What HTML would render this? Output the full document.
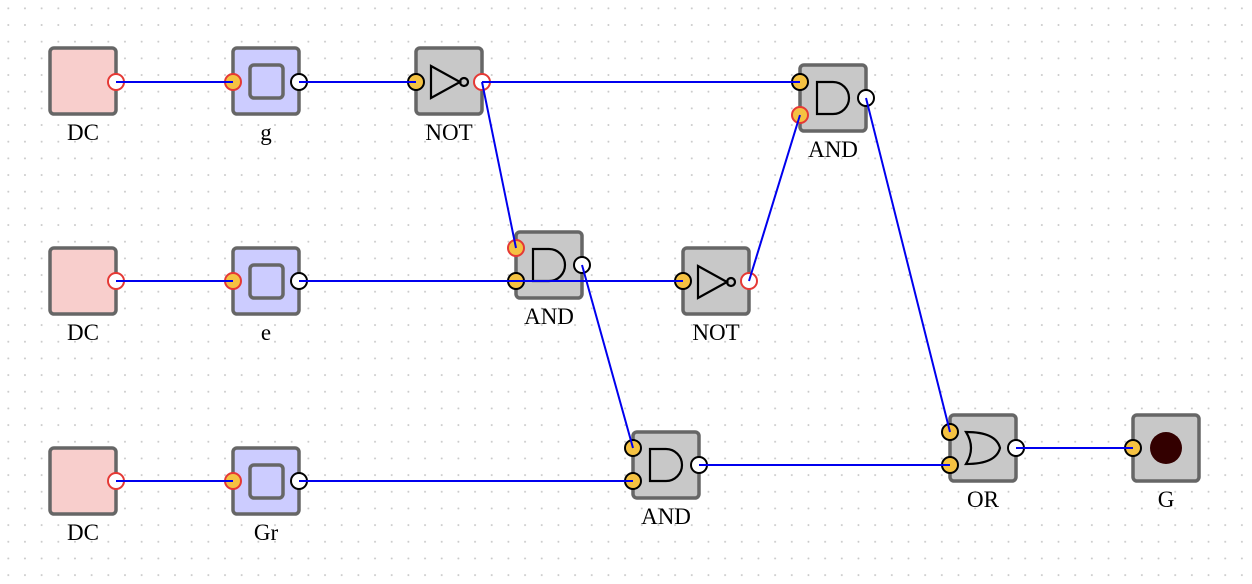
<!DOCTYPE html>
<html><head><style>body{margin:0;background:#fff}svg{display:block}</style></head><body>
<svg width="1252" height="584" xmlns="http://www.w3.org/2000/svg" font-family="Liberation Serif, serif" font-size="23">
<defs><pattern id="d" width="16.67" height="16.67" patternUnits="userSpaceOnUse" x="0" y="0"><circle cx="8.3" cy="8.3" r="1" fill="#c8c8c8"/></pattern></defs>
<rect width="1252" height="584" fill="url(#d)"/>
<g stroke="#666" stroke-width="3.5">
<rect x="50" y="48" width="66" height="66" rx="4" fill="#f8cecc"/>
<rect x="50" y="248" width="66" height="66" rx="4" fill="#f8cecc"/>
<rect x="50" y="448" width="66" height="66" rx="4" fill="#f8cecc"/>
<rect x="233" y="48" width="66" height="66" rx="4" fill="#ccccff"/><rect x="250" y="65" width="33" height="33" rx="4" fill="#ccccff"/>
<rect x="233" y="248" width="66" height="66" rx="4" fill="#ccccff"/><rect x="250" y="265" width="33" height="33" rx="4" fill="#ccccff"/>
<rect x="233" y="448" width="66" height="66" rx="4" fill="#ccccff"/><rect x="250" y="465" width="33" height="33" rx="4" fill="#ccccff"/>
<rect x="416" y="48" width="66" height="66" rx="4" fill="#c8c8c8"/>
<rect x="683" y="248" width="66" height="66" rx="4" fill="#c8c8c8"/>
<rect x="800" y="65" width="66" height="66" rx="4" fill="#c8c8c8"/>
<rect x="516" y="232" width="66" height="66" rx="4" fill="#c8c8c8"/>
<rect x="633" y="432" width="66" height="66" rx="4" fill="#c8c8c8"/>
<rect x="950" y="415" width="66" height="66" rx="4" fill="#c8c8c8"/>
<rect x="1133" y="415" width="66" height="66" rx="4" fill="#c8c8c8"/>
</g>
<g stroke="#000" stroke-width="2.2" fill="none">
<path d="M431 66L460 82L431 98Z"/><circle cx="464" cy="82" r="4"/>
<path d="M698 266L727 282L698 298Z"/><circle cx="731" cy="282" r="4"/>
<path d="M817 82h16a16 16 0 0 1 0 32h-16Z"/>
<path d="M533 249h16a16 16 0 0 1 0 32h-16Z"/>
<path d="M650 449h16a16 16 0 0 1 0 32h-16Z"/>
<path d="M966 432q30 0 34 16q-4 16-34 16q10-16 0-32Z"/>
</g>
<circle cx="1166" cy="448" r="16" fill="#330000"/>
<g stroke-width="2">
<g fill="#fff" stroke="#e53935"><circle cx="116" cy="82" r="8"/><circle cx="116" cy="281" r="8"/><circle cx="116" cy="481" r="8"/><circle cx="482" cy="82" r="8"/><circle cx="749" cy="281" r="8"/></g>
<g fill="#f5c242" stroke="#e53935"><circle cx="233" cy="82" r="8"/><circle cx="233" cy="281" r="8"/><circle cx="233" cy="481" r="8"/><circle cx="516" cy="248" r="8"/><circle cx="800" cy="115" r="8"/></g>
<g fill="#f5c242" stroke="#000"><circle cx="416" cy="82" r="8"/><circle cx="683" cy="281" r="8"/><circle cx="800" cy="82" r="8"/><circle cx="516" cy="281" r="8"/><circle cx="633" cy="448" r="8"/><circle cx="633" cy="481" r="8"/><circle cx="950" cy="432" r="8"/><circle cx="950" cy="465" r="8"/><circle cx="1133" cy="448" r="8"/></g>
<g fill="#fff" stroke="#000"><circle cx="299" cy="82" r="8"/><circle cx="299" cy="281" r="8"/><circle cx="299" cy="481" r="8"/><circle cx="866" cy="98" r="8"/><circle cx="582" cy="265" r="8"/><circle cx="699" cy="465" r="8"/><circle cx="1016" cy="448" r="8"/></g>
</g>
<g stroke="#0000ee" stroke-width="2" fill="none">
<path d="M116 82H233M299 82H416M482 82H800M482 82L516 248M116 281H233M299 281H683M582 265L633 448M749 281L800 115M866 98L950 432M116 481H233M299 481H633M699 465H950M1016 448H1133"/>
</g>
<g text-anchor="middle" fill="#000">
<text x="83" y="140">DC</text><text x="83" y="340">DC</text><text x="83" y="540">DC</text>
<text x="266" y="140">g</text><text x="266" y="340">e</text><text x="266" y="540">Gr</text>
<text x="449" y="140">NOT</text><text x="716" y="340">NOT</text>
<text x="833" y="157">AND</text><text x="549" y="324">AND</text><text x="666" y="524">AND</text>
<text x="983" y="507">OR</text><text x="1166" y="507">G</text>
</g>
</svg>
</body></html>
